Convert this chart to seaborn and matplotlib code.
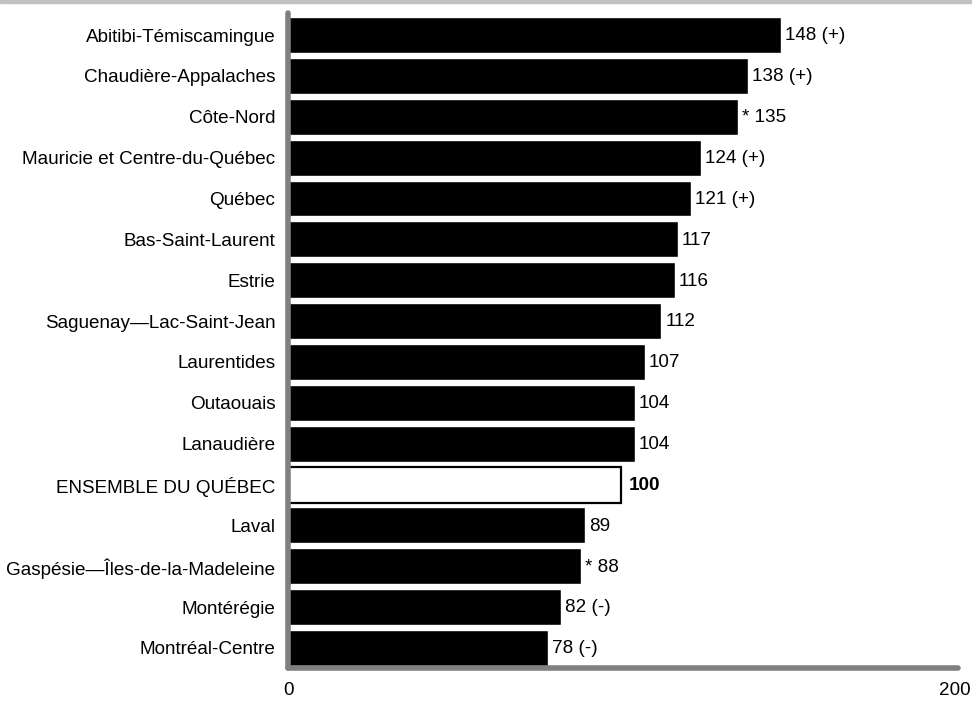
import pandas as pd
import seaborn as sns
import matplotlib.pyplot as plt
from matplotlib.patches import Rectangle

# Regions and index values (Ensemble du Québec = 100)
regions = ['Abitibi-Témiscamingue', 'Chaudière-Appalaches', 'Côte-Nord',
           'Mauricie et Centre-du-Québec', 'Québec', 'Bas-Saint-Laurent', 'Estrie',
           'Saguenay—Lac-Saint-Jean', 'Laurentides', 'Outaouais', 'Lanaudière',
           'ENSEMBLE DU QUÉBEC', 'Laval', 'Gaspésie—Îles-de-la-Madeleine',
           'Montérégie', 'Montréal-Centre']
values = [148, 138, 135, 124, 121, 117, 116, 112, 107, 104, 104, 100, 89, 88, 82, 78]
value_labels = ['148 (+)', '138 (+)', '* 135', '124 (+)', '121 (+)', '117', '116', '112',
                '107', '104', '104', '100', '89', '* 88', '82 (-)', '78 (-)']
total_name = 'ENSEMBLE DU QUÉBEC'

df = pd.DataFrame({'region': regions, 'value': values})

sns.set_style('white')
plt.rcParams['font.family'] = ['Liberation Sans', 'DejaVu Sans']

fig = plt.figure(figsize=(9.72, 7.02), dpi=100)
ax = fig.add_axes([288 / 972, 1 - 668 / 702, (958 - 288) / 972, (668 - 13) / 702])

sns.barplot(data=df, x='value', y='region', orient='h', color='black',
            width=0.88, saturation=1, ax=ax)

# Highlight the province-wide bar
for patch, name in zip(ax.patches, regions):
    if name == total_name:
        patch.set_facecolor('white')
        patch.set_edgecolor('black')
        patch.set_linewidth(1.6)

# Value labels
for i, (v, lab) in enumerate(zip(values, value_labels)):
    bold = regions[i] == total_name
    ax.text(v + (2.2 if bold else 1.2), i + 0.02, lab, va='center', ha='left',
            fontsize=13.6, fontweight='bold' if bold else 'normal', color='black')

ax.set_xlim(0, 201)
ax.set_ylim(15.49, -0.54)
ax.set_xticks([0, 200])
ax.set_xticklabels(['0', '200'])
ax.set_xlabel('')
ax.set_ylabel('')
ax.tick_params(axis='x', length=0, pad=10, labelsize=13.6, labelcolor='black')
ax.tick_params(axis='y', length=0, pad=9, labelsize=13.6, labelcolor='black')

for side in ['top', 'right']:
    ax.spines[side].set_visible(False)
for side in ['left', 'bottom']:
    ax.spines[side].set_color('#808080')
    ax.spines[side].set_linewidth(4)
    ax.spines[side].set_capstyle('round')
    ax.spines[side].set_zorder(5)

# Grey band along the top of the figure
fig.patches.append(Rectangle((0, 1 - 3 / 702), 1, 3 / 702, transform=fig.transFigure,
                             color='#c0c0c0', zorder=0))

plt.savefig('out.png', dpi=100)
